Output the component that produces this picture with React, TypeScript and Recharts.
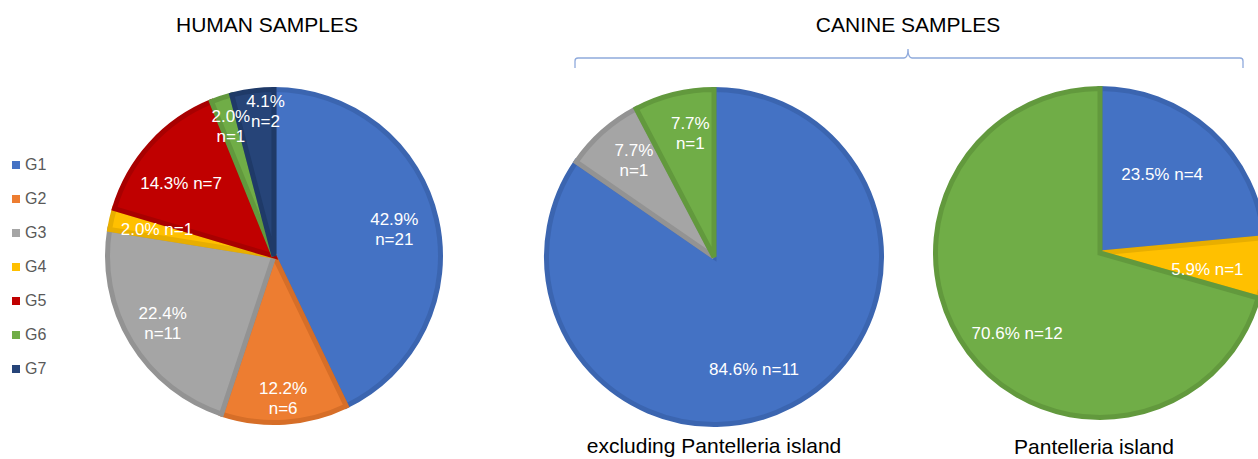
import React from 'react';
import { PieChart, Pie, Cell, Legend } from 'recharts';

// Genotype counts per sample set
const humanGroups = ['G1', 'G2', 'G3', 'G4', 'G5', 'G6', 'G7'];
const humanCounts = [21, 6, 11, 1, 7, 1, 2];

const mainlandGroups = ['G1', 'G3', 'G6'];
const mainlandCounts = [11, 1, 1];

const pantelleriaGroups = ['G1', 'G4', 'G6'];
const pantelleriaCounts = [4, 1, 12];

const FILL: Record<string, string> = {
  G1: '#4472C4',
  G2: '#ED7D31',
  G3: '#A5A5A5',
  G4: '#FFC000',
  G5: '#C00000',
  G6: '#70AD47',
  G7: '#264478',
};

const EDGE: Record<string, string> = {
  G1: '#3B65B0',
  G2: '#D66E28',
  G3: '#939393',
  G4: '#E8AE00',
  G5: '#A80000',
  G6: '#62993D',
  G7: '#1F3A68',
};

type LabelSpot = { r: number; shift: number; wrap: boolean };

// where each slice label sits: fraction of radius, angular nudge (deg, clockwise), two lines or one
const humanLabelSpots: LabelSpot[] = [
  { r: 0.73, shift: 0, wrap: true },
  { r: 0.84, shift: 0, wrap: true },
  { r: 0.77, shift: 0, wrap: true },
  { r: 0.71, shift: 0, wrap: false },
  { r: 0.7, shift: -4, wrap: false },
  { r: 0.81, shift: 0, wrap: true },
  { r: 0.86, shift: 4, wrap: true },
];
const mainlandLabelSpots: LabelSpot[] = [
  { r: 0.7, shift: 8, wrap: false },
  { r: 0.74, shift: 2, wrap: true },
  { r: 0.74, shift: 3, wrap: true },
];
const pantelleriaLabelSpots: LabelSpot[] = [
  { r: 0.6, shift: -4, wrap: false },
  { r: 0.65, shift: 3, wrap: false },
  { r: 0.69, shift: -7, wrap: false },
];

const FONT = '"Liberation Sans", Arial, sans-serif';

const toRows = (groups: string[], counts: number[]) =>
  groups.map((name, i) => ({ name, value: counts[i] }));

const makeLabel = (spots: LabelSpot[]) => (props: any) => {
  const { cx, cy, midAngle, outerRadius, percent, value, index } = props;
  const spot = spots[index];
  const ang = ((midAngle - spot.shift) * Math.PI) / 180;
  const d = (outerRadius + 2.5) * spot.r;
  const x = cx + d * Math.cos(ang);
  const y = cy - d * Math.sin(ang);
  const pct = `${(percent * 100).toFixed(1)}%`;
  const n = `n=${value}`;
  const common = {
    textAnchor: 'middle' as const,
    fill: '#ffffff',
    fontSize: 17,
    fontFamily: FONT,
  };
  if (!spot.wrap) {
    return (
      <text x={x} y={y + 6} {...common}>
        {`${pct} ${n}`}
      </text>
    );
  }
  return (
    <text x={x} y={y - 4} {...common}>
      <tspan x={x} y={y - 4}>{pct}</tspan>
      <tspan x={x} y={y + 16}>{n}</tspan>
    </text>
  );
};

const GroupLegend = () => (
  <ul style={{ listStyle: 'none', margin: 0, padding: 0 }}>
    {humanGroups.map((g) => (
      <li
        key={g}
        style={{
          height: 34,
          display: 'flex',
          alignItems: 'center',
          fontSize: 16,
          fontFamily: FONT,
          color: '#595959',
        }}
      >
        <span style={{ width: 8, height: 8, background: FILL[g], marginRight: 5 }} />
        {g}
      </li>
    ))}
  </ul>
);

const App: React.FC = () => {
  const human = toRows(humanGroups, humanCounts);
  const mainland = toRows(mainlandGroups, mainlandCounts);
  const pantelleria = toRows(pantelleriaGroups, pantelleriaCounts);

  const titleStyle: React.CSSProperties = {
    position: 'absolute',
    fontFamily: FONT,
    fontSize: 21,
    color: '#000',
    whiteSpace: 'nowrap',
    transform: 'translateX(-50%)',
    lineHeight: '21px',
  };

  return (
    <div
      style={{
        position: 'absolute',
        left: 0,
        top: 0,
        width: 1258,
        height: 459,
        overflow: 'hidden',
        background: '#fff',
      }}
    >
      <PieChart width={1258} height={459} margin={{ top: 0, right: 0, bottom: 0, left: 0 }}>
        <Pie
          data={human}
          dataKey="value"
          nameKey="name"
          cx={274}
          cy={256}
          outerRadius={166.5}
          startAngle={90}
          endAngle={-270}
          strokeWidth={5}
          labelLine={false}
          label={makeLabel(humanLabelSpots)}
          isAnimationActive={false}
        >
          {human.map((d) => (
            <Cell key={d.name} fill={FILL[d.name]} stroke={EDGE[d.name]} />
          ))}
        </Pie>
        <Pie
          data={mainland}
          dataKey="value"
          nameKey="name"
          cx={714}
          cy={257}
          outerRadius={167.5}
          startAngle={90}
          endAngle={-270}
          strokeWidth={5}
          labelLine={false}
          label={makeLabel(mainlandLabelSpots)}
          isAnimationActive={false}
        >
          {mainland.map((d) => (
            <Cell key={d.name} fill={FILL[d.name]} stroke={EDGE[d.name]} />
          ))}
        </Pie>
        <Pie
          data={pantelleria}
          dataKey="value"
          nameKey="name"
          cx={1100}
          cy={253}
          outerRadius={164.5}
          startAngle={90}
          endAngle={-270}
          strokeWidth={5}
          labelLine={false}
          label={makeLabel(pantelleriaLabelSpots)}
          isAnimationActive={false}
        >
          {pantelleria.map((d) => (
            <Cell key={d.name} fill={FILL[d.name]} stroke={EDGE[d.name]} />
          ))}
        </Pie>
        <Legend
          content={<GroupLegend />}
          wrapperStyle={{ left: 12, top: 148, width: 60, bottom: 'auto' }}
        />
      </PieChart>

      <div style={{ ...titleStyle, left: 267, top: 14 }}>HUMAN SAMPLES</div>
      <div style={{ ...titleStyle, left: 908, top: 14 }}>CANINE SAMPLES</div>
      <div style={{ ...titleStyle, left: 714, top: 435 }}>excluding Pantelleria island</div>
      <div style={{ ...titleStyle, left: 1094, top: 436 }}>Pantelleria island</div>

      {/* curly bracket grouping the two canine pies */}
      <svg
        width={1258}
        height={100}
        style={{ position: 'absolute', left: 0, top: 0, pointerEvents: 'none' }}
      >
        <path
          d="M575 68 L575 61 Q575 58 578 58 L904 58 Q908 58 908 49 Q908 58 912 58 L1240 58 Q1243 58 1243 61 L1243 68"
          fill="none"
          stroke="#8FAADC"
          strokeWidth={1.3}
        />
      </svg>
    </div>
  );
};

export default App;
